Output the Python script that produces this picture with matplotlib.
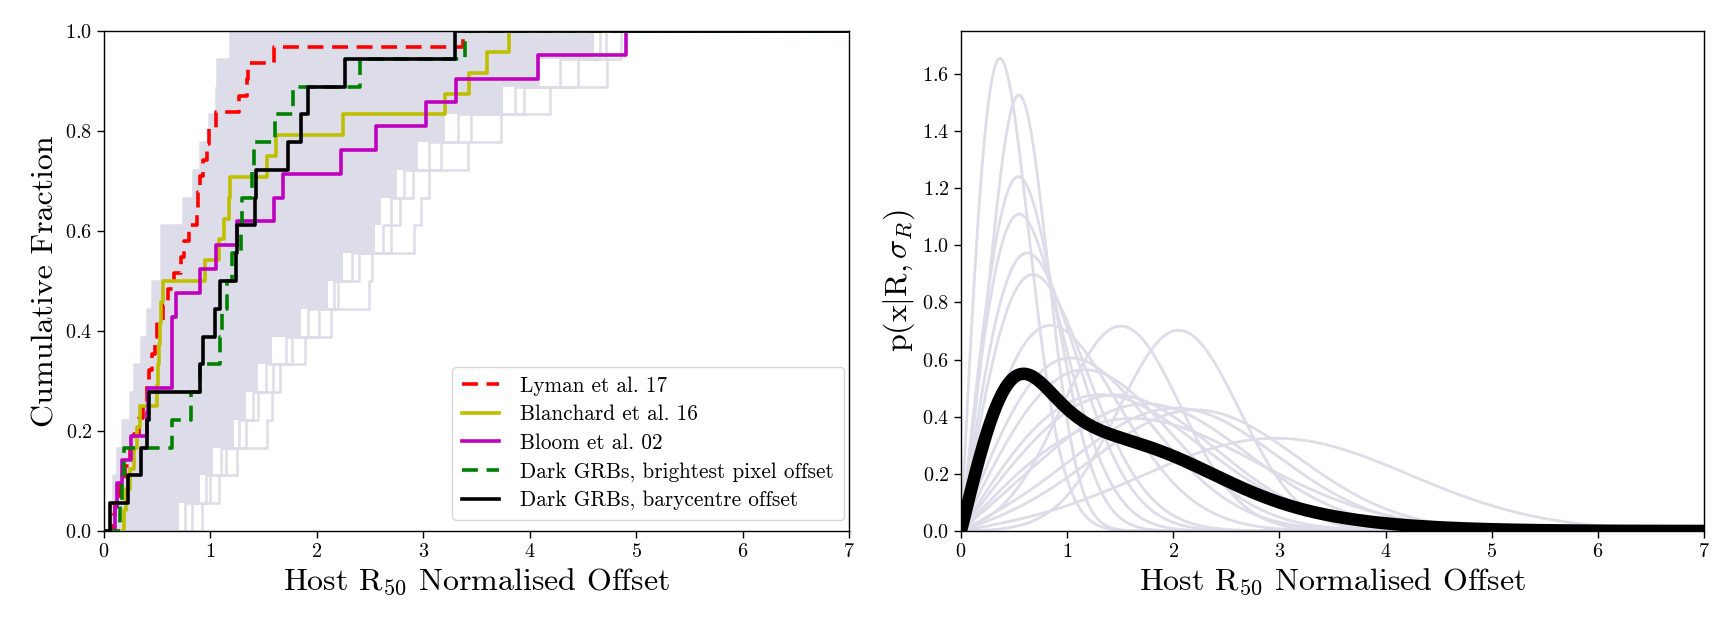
import numpy as np
import matplotlib
matplotlib.use("Agg")
import matplotlib.pyplot as plt

plt.rcParams['font.family'] = 'serif'
plt.rcParams['font.serif'] = ['cmr10']
plt.rcParams['mathtext.fontset'] = 'cm'
plt.rcParams['axes.formatter.use_mathtext'] = True
plt.rcParams['axes.unicode_minus'] = False

# ---------------- data (left panel: cumulative offset distributions) ----------------
lyman17 = [0.08, 0.10, 0.15, 0.20, 0.24, 0.28, 0.33, 0.37, 0.40, 0.42, 0.45, 0.48,
           0.50, 0.55, 0.60, 0.66, 0.72, 0.75, 0.80, 0.87, 0.88, 0.90, 0.93, 0.97,
           0.99, 1.05, 1.27, 1.34, 1.35, 1.60, 3.37]
blanchard16 = [0.19, 0.21, 0.24, 0.28, 0.31, 0.34, 0.50, 0.51, 0.52, 0.53, 0.54, 0.55,
               0.95, 1.08, 1.13, 1.17, 1.18, 1.53, 1.62, 2.25, 3.20, 3.43, 3.60, 3.81]
bloom02 = [0.10, 0.12, 0.17, 0.25, 0.40, 0.41, 0.635, 0.635, 0.64, 0.68, 0.90, 1.05,
           1.245, 1.60, 1.68, 2.23, 2.56, 3.03, 3.31, 4.08, 4.90]
dark_bright = [0.15, 0.17, 0.19, 0.64, 0.82, 0.90, 1.09, 1.11, 1.16, 1.20, 1.29, 1.30,
               1.39, 1.41, 1.61, 1.78, 2.41, 3.39]
dark_bary = [0.056, 0.23, 0.35, 0.40, 0.425, 0.90, 0.93, 1.04, 1.09, 1.24, 1.25, 1.42,
             1.43, 1.73, 1.85, 1.92, 2.26, 3.30]

# resampled dark-GRB realisations (per CDF level): leftmost edge, edge of the dense
# region, a few individual outer realisations and the rightmost one
realis_left = [0.05, 0.08, 0.12, 0.17, 0.24, 0.28, 0.35, 0.40, 0.45, 0.54, 0.54, 0.74,
               0.84, 0.90, 0.99, 1.05, 1.06, 1.18]
realis_dense = [0.70, 0.90, 1.02, 1.22, 1.33, 1.45, 1.58, 1.85, 2.10, 2.25, 2.55, 2.60,
                2.75, 2.95, 3.20, 3.75, 4.10, 4.60]
realis_a = [0.76, 0.96, 1.10, 1.27, 1.40, 1.52, 1.71, 1.92, 2.16, 2.33, 2.62, 2.70,
            2.82, 3.05, 3.33, 3.86, 4.28, 4.66]
realis_b = [0.83, 1.00, 1.15, 1.33, 1.45, 1.59, 1.77, 2.02, 2.20, 2.40, 2.70, 2.78,
            2.90, 3.17, 3.45, 3.95, 4.45, 4.72]
realis_right = [0.92, 1.08, 1.25, 1.53, 1.58, 1.65, 1.89, 2.13, 2.49, 2.52, 2.91, 2.98,
                3.05, 3.42, 3.73, 4.19, 4.73, 4.86]

# ---------------- data (right panel: Rice offset pdfs, nu / sigma per GRB) ----------------
rice_nu = [0.05, 0.48, 0.43, 0.16, 0.18, 0.26, 0.10, 1.40, 1.97, 0.70, 0.91, 1.19,
           1.50, 1.17, 2.70, 2.00, 1.80, 0.90]
rice_sigma = [0.365, 0.285, 0.39, 0.535, 0.61, 0.65, 0.84, 0.58, 0.58, 0.87, 0.87, 0.99,
              1.00, 1.30, 1.30, 1.00, 1.00, 1.10]

series = [
    ("Lyman et al. 17", lyman17, 'r', '--'),
    ("Blanchard et al. 16", blanchard16, 'y', '-'),
    ("Bloom et al. 02", bloom02, 'm', '-'),
    ("Dark GRBs, brightest pixel offset", dark_bright, 'g', '--'),
    ("Dark GRBs, barycentre offset", dark_bary, 'k', '-'),
]

GREY = '#dddde9'
XMAX = 7

fig = plt.figure(figsize=(17.34, 6.32), dpi=100)
W, H = 1734.0, 632.0
ax1 = fig.add_axes([104 / W, 1 - 531 / H, 745 / W, 500 / H])
ax2 = fig.add_axes([961 / W, 1 - 531 / H, 743 / W, 500 / H])

# ---- left panel ----
n = len(realis_left)
lev = np.arange(n + 1) / n
ax1.fill_betweenx(lev, realis_left + [realis_left[-1]], realis_dense + [realis_dense[-1]],
                  step='post', color=GREY, lw=0, zorder=1)


def cdf_xy(vals):
    v = np.sort(np.asarray(vals, dtype=float))
    N = len(v)
    return np.r_[0.0, v, XMAX], np.r_[0.0, np.arange(1, N + 1) / N, 1.0]


for r in (realis_left, realis_a, realis_b, realis_right):
    xs, ys = cdf_xy(r)
    ax1.step(xs, ys, where='post', color=GREY, lw=1.8, zorder=1.5)

for label, vals, col, ls in series:
    xs, ys = cdf_xy(vals)
    kw = dict(color=col, lw=2.6, label=label, zorder=3)
    if ls == '--':
        kw['dashes'] = (4.4, 2.4)
    ax1.step(xs, ys, where='post', **kw)

ax1.set_xlim(0, XMAX)
ax1.set_ylim(0, 1)
ax1.set_xticks(range(0, 8))
ax1.set_yticks(np.arange(0, 1.01, 0.2))
ax1.set_xlabel(r'Host $\mathrm{R}_{50}$ Normalised Offset', fontsize=23)
ax1.set_ylabel('Cumulative Fraction', fontsize=23)
leg = ax1.legend(loc='lower right', fontsize=15.3, handlelength=1.75, handletextpad=1.0,
                 bbox_to_anchor=(0.993, 0.022), borderaxespad=0.0, labelspacing=0.42,
                 borderpad=0.45)

# ---- right panel ----
x = np.linspace(0, XMAX, 1401)
curves = []
for nu, s in zip(rice_nu, rice_sigma):
    p = x / s ** 2 * np.exp(-(x ** 2 + nu ** 2) / (2 * s ** 2)) * np.i0(x * nu / s ** 2)
    curves.append(p)
    ax2.plot(x, p, color=GREY, lw=2.0, zorder=1)
ax2.plot(x, np.mean(curves, axis=0), color='k', lw=9, zorder=3, solid_capstyle='butt')

ax2.set_xlim(0, XMAX)
ax2.set_ylim(0, 1.75)
ax2.set_xticks(range(0, 8))
ax2.set_yticks(np.arange(0, 1.61, 0.2))
ax2.set_xlabel(r'Host $\mathrm{R}_{50}$ Normalised Offset', fontsize=23)
ax2.set_ylabel(r'$\mathrm{p(x}|\mathrm{R,}\sigma_R\mathrm{)}$', fontsize=23)

for ax in (ax1, ax2):
    ax.tick_params(labelsize=14.5, length=5, width=1.0, direction='out')
    for sp in ax.spines.values():
        sp.set_linewidth(1.0)

fig.savefig('out.png', dpi=100)
